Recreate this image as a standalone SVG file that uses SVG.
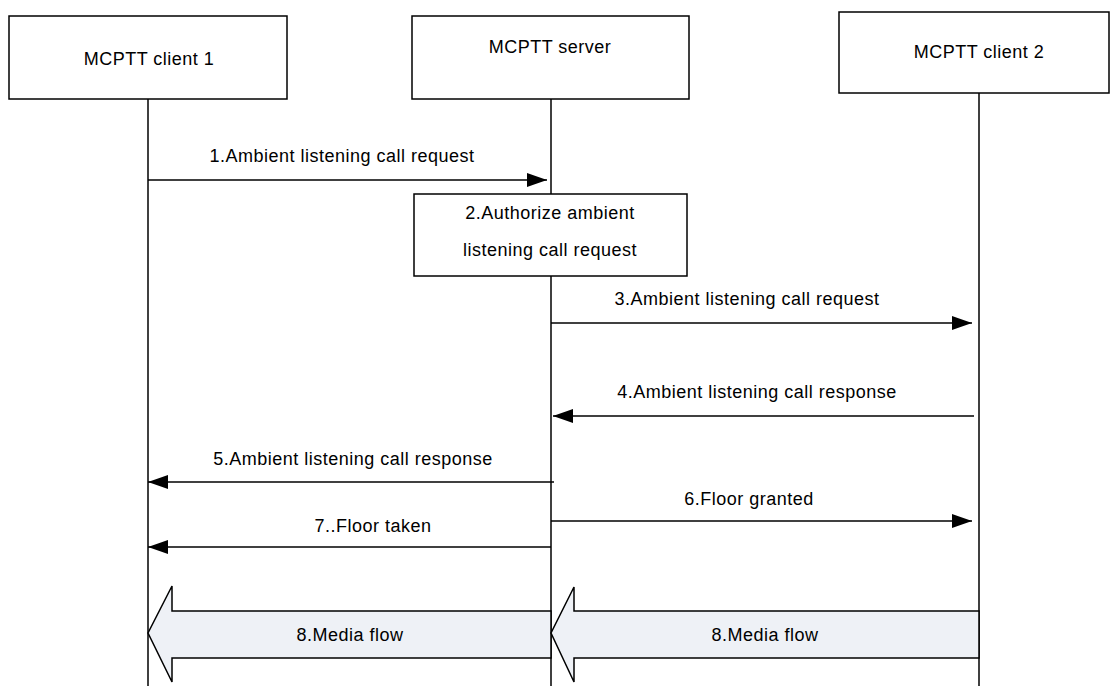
<svg xmlns="http://www.w3.org/2000/svg" width="1110" height="686" viewBox="0 0 1110 686">
<defs>
<style>
.box{fill:#fff;stroke:#000;stroke-width:1.5}
.life{stroke:#000;stroke-width:1.5;fill:none}
.msg{stroke:#000;stroke-width:1.5;fill:none}
.big{fill:#EEF1F6;stroke:#000;stroke-width:1.5}
text{font-family:"Liberation Sans",Arial,sans-serif;font-size:18px;letter-spacing:0.5px;fill:#000;text-anchor:middle}
</style>
<marker id="ah" markerWidth="20" markerHeight="14" refX="20" refY="7" orient="auto" markerUnits="userSpaceOnUse">
<path d="M0,0 L20,7 L0,14 Z" fill="#000"/>
</marker>
</defs>
<rect width="1110" height="686" fill="#fff"/>
<g id="connectors">
<line class="life" x1="148" y1="99" x2="148" y2="686"/>
<line class="life" x1="551" y1="99" x2="551" y2="686"/>
<line class="life" x1="979" y1="93" x2="979" y2="686"/>
<line class="msg" x1="148" y1="180" x2="547" y2="180" marker-end="url(#ah)"/>
<text x="342" y="162">1.Ambient listening call request</text>
<line class="msg" x1="551" y1="323" x2="972" y2="323" marker-end="url(#ah)"/>
<text x="747" y="305">3.Ambient listening call request</text>
<line class="msg" x1="974" y1="416" x2="553" y2="416" marker-end="url(#ah)"/>
<text x="757" y="398">4.Ambient listening call response</text>
<line class="msg" x1="554" y1="482" x2="148" y2="482" marker-end="url(#ah)"/>
<text x="353" y="465">5.Ambient listening call response</text>
<line class="msg" x1="551" y1="521" x2="972" y2="521" marker-end="url(#ah)"/>
<text x="749" y="505">6.Floor granted</text>
<line class="msg" x1="551" y1="547" x2="148" y2="547" marker-end="url(#ah)"/>
<text x="373" y="532">7..Floor taken</text>
<path class="big" d="M551,611 L172,611 L172,586 L148,633 L172,682 L172,658 L551,658 Z"/>
<text x="350" y="641">8.Media flow</text>
<path class="big" d="M979,611 L574,611 L574,587 L551,633 L574,682 L574,658 L979,658 Z"/>
<text x="765" y="641">8.Media flow</text>
</g>
<g id="client1">
<rect class="box" x="9" y="16" width="278" height="83"/>
<text x="149" y="65">MCPTT client 1</text>
</g>
<g id="server">
<rect class="box" x="412" y="16" width="277" height="83"/>
<text x="550" y="53">MCPTT server</text>
</g>
<g id="client2">
<rect class="box" x="839" y="12" width="270" height="81"/>
<text x="979" y="58">MCPTT client 2</text>
</g>
<g id="authorize">
<rect class="box" x="414" y="194" width="273" height="82"/>
<text x="550" y="219">2.Authorize ambient</text>
<text x="550" y="256">listening call request</text>
</g>
</svg>
